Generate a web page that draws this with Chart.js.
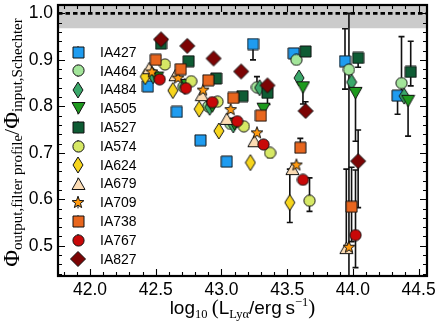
<!DOCTYPE html>
<html>
<head>
<meta charset="utf-8">
<script src="https://cdn.jsdelivr.net/npm/chart.js@4.4.1/dist/chart.umd.min.js"></script>
<style>
html, body { margin: 0; padding: 0; background: #fff; }
</style>
</head>
<body>
<canvas id="myChart" width="436" height="323"></canvas>
<script>
// filters, in legend order
var filters = ['IA427', 'IA464', 'IA484', 'IA505', 'IA527', 'IA574', 'IA624', 'IA679', 'IA709', 'IA738', 'IA767', 'IA827'];
var fills = ['#1f9cf0', '#a3e59a', '#3aa86a', '#1e9a1e', '#0e5c34', '#d6e865', '#f7d51c', '#fcdcb4', '#ff9a10', '#e8661e', '#c80808', '#7c0404'];
var shapes = ['square', 'circle', 'thinDiamond', 'triangleDown', 'square', 'circle', 'thinDiamond', 'triangle', 'star', 'square', 'circle', 'diamond'];

// log10 L(Lya) per point and the measured ratio
var ia427X = [42.44, 42.66, 42.84, 43.04, 43.24, 43.55, 43.94, 44.34];
var ia427Y = [0.843, 0.788, 0.727, 0.681, 0.934, 0.914, 0.897, 0.823];
var ia427Lo = [0, 0, 0, 0, 0.034, 0, 0.06, 0.04];
var ia427Hi = [0, 0, 0, 0, 0, 0, 0.07, 0];

var ia464X = [42.49, 42.71, 42.90, 43.07, 43.27, 43.57, 43.97, 44.37];
var ia464Y = [0.866, 0.842, 0.800, 0.762, 0.841, 0.900, 0.879, 0.850];
var ia464Lo = [0, 0, 0, 0, 0, 0, 0.5, 0.03];
var ia464Hi = [0, 0, 0, 0, 0.023, 0, 0.121, 0.10];

var ia484X = [42.48, 42.72, 42.91, 43.09, 43.29, 43.59, 43.99, 44.39];
var ia484Y = [0.866, 0.843, 0.798, 0.760, 0.840, 0.861, 0.852, 0.822];
var ia484Lo = [0, 0, 0, 0, 0, 0, 0, 0];
var ia484Hi = [0, 0, 0, 0, 0, 0, 0, 0];

var ia505X = [42.51, 42.74, 42.93, 43.10, 43.32, 43.62, 44.02, 44.42];
var ia505Y = [0.862, 0.846, 0.800, 0.762, 0.795, 0.841, 0.829, 0.812];
var ia505Lo = [0, 0, 0, 0, 0, 0.036, 0.104, 0.076];
var ia505Hi = [0, 0, 0, 0, 0, 0, 0, 0];

var ia527X = [42.54, 42.75, 42.96, 43.16, 43.35, 43.64, 44.04, 44.44];
var ia527Y = [0.935, 0.897, 0.860, 0.822, 0.829, 0.918, 0.904, 0.874];
var ia527Lo = [0, 0, 0, 0, 0.025, 0, 0.02, 0.03];
var ia527Hi = [0, 0, 0, 0, 0, 0, 0, 0.066];

var ia574X = [42.57, 42.77, 42.97, 43.17, 43.37, 43.67];
var ia574Y = [0.890, 0.854, 0.810, 0.757, 0.700, 0.597];
var ia574Lo = [0, 0, 0, 0, 0.01, 0.023];
var ia574Hi = [0, 0, 0, 0, 0, 0.049];

var ia624X = [42.42, 42.63, 42.83, 42.98, 43.22, 43.52];
var ia624Y = [0.864, 0.834, 0.794, 0.747, 0.679, 0.593];
var ia624Lo = [0, 0, 0, 0, 0, 0.043];
var ia624Hi = [0, 0, 0, 0, 0, 0.072];

var ia679X = [42.45, 42.65, 42.85, 43.04, 43.25, 43.54, 43.95];
var ia679Y = [0.882, 0.867, 0.824, 0.773, 0.725, 0.665, 0.495];
var ia679Lo = [0, 0, 0, 0, 0, 0, 0];
var ia679Hi = [0, 0, 0, 0, 0, 0, 0.17];

var ia709X = [42.47, 42.67, 42.86, 43.07, 43.27, 43.57, 43.97];
var ia709Y = [0.875, 0.862, 0.836, 0.794, 0.744, 0.675, 0.498];
var ia709Lo = [0, 0, 0, 0, 0, 0, 0];
var ia709Hi = [0, 0, 0, 0, 0, 0, 0];

var ia738X = [42.50, 42.69, 42.90, 43.09, 43.30, 43.60, 43.99];
var ia738Y = [0.900, 0.880, 0.856, 0.818, 0.780, 0.711, 0.584];
var ia738Lo = [0, 0, 0, 0, 0, 0, 0.075];
var ia738Hi = [0, 0, 0, 0, 0, 0.02, 0.085];

var ia767X = [42.53, 42.73, 42.93, 43.12, 43.32, 43.62, 44.02];
var ia767Y = [0.858, 0.839, 0.809, 0.768, 0.718, 0.642, 0.523];
var ia767Lo = [0, 0, 0, 0, 0, 0, 0.07];
var ia767Hi = [0, 0, 0, 0, 0, 0, 0.14];

var ia827X = [42.54, 42.74, 42.94, 43.15, 43.35, 43.64, 44.04];
var ia827Y = [0.944, 0.930, 0.903, 0.875, 0.845, 0.790, 0.682];
var ia827Lo = [0, 0, 0, 0, 0, 0, 0.10];
var ia827Hi = [0, 0, 0, 0, 0, 0.02, 0.067];

var allX = [ia427X, ia464X, ia484X, ia505X, ia527X, ia574X, ia624X, ia679X, ia709X, ia738X, ia767X, ia827X];
var allY = [ia427Y, ia464Y, ia484Y, ia505Y, ia527Y, ia574Y, ia624Y, ia679Y, ia709Y, ia738Y, ia767Y, ia827Y];
var allLo = [ia427Lo, ia464Lo, ia484Lo, ia505Lo, ia527Lo, ia574Lo, ia624Lo, ia679Lo, ia709Lo, ia738Lo, ia767Lo, ia827Lo];
var allHi = [ia427Hi, ia464Hi, ia484Hi, ia505Hi, ia527Hi, ia574Hi, ia624Hi, ia679Hi, ia709Hi, ia738Hi, ia767Hi, ia827Hi];

var xTicks = [42.0, 42.5, 43.0, 43.5, 44.0, 44.5];
var yTicks = [0.5, 0.6, 0.7, 0.8, 0.9, 1.0];
var bandLow = 0.968;   // grey band below 1.0

// marker images, so the legend and the points look the same
function marker(shape, color) {
  var c = document.createElement('canvas');
  var pts = null;
  if (shape == 'square') { c.width = 13; c.height = 13; }
  else if (shape == 'circle') { c.width = 13; c.height = 13; }
  else if (shape == 'diamond') { c.width = 18; c.height = 18; pts = [[9, 1.5], [16.5, 9], [9, 16.5], [1.5, 9]]; }
  else if (shape == 'thinDiamond') { c.width = 12; c.height = 18; pts = [[6, 1], [11, 9], [6, 17], [1, 9]]; }
  else if (shape == 'triangle') { c.width = 15; c.height = 14; pts = [[7.5, 1], [14, 12.5], [1, 12.5]]; }
  else if (shape == 'triangleDown') { c.width = 15; c.height = 14; pts = [[1, 1.5], [14, 1.5], [7.5, 13]]; }
  else if (shape == 'star') {
    c.width = 14; c.height = 14; pts = [];
    for (var i = 0; i < 10; i++) {
      var r = i % 2 ? 2.6 : 6.2;
      var a = -Math.PI / 2 + i * Math.PI / 5;
      pts.push([7 + r * Math.cos(a), 7.6 + r * Math.sin(a)]);
    }
  }
  var g = c.getContext('2d');
  g.fillStyle = color;
  g.strokeStyle = '#111';
  g.lineWidth = 1;
  g.beginPath();
  if (shape == 'square') g.rect(1, 1, 11, 11);
  else if (shape == 'circle') g.arc(6.5, 6.5, 5.6, 0, Math.PI * 2);
  else {
    g.moveTo(pts[0][0], pts[0][1]);
    for (var j = 1; j < pts.length; j++) g.lineTo(pts[j][0], pts[j][1]);
    g.closePath();
  }
  g.fill();
  g.stroke();
  return c;
}

var images = filters.map(function(f, i) { return marker(shapes[i], fills[i]); });

var datasets = filters.map(function(f, i) {
  return {
    label: f,
    data: allX[i].map(function(x, k) { return { x: x, y: allY[i][k] }; }),
    errLo: allLo[i],
    errHi: allHi[i],
    pointStyle: images[i],
    order: -i,
    showLine: false
  };
});

// grey band + dashed line at 1, error bars under the markers
var backPlugin = {
  id: 'back',
  beforeDatasetsDraw: function(chart) {
    var ctx = chart.ctx, a = chart.chartArea;
    var xs = chart.scales.x, ys = chart.scales.y;
    ctx.save();
    ctx.beginPath();
    ctx.rect(a.left, a.top, a.right - a.left, a.bottom - a.top);
    ctx.clip();
    var yb = ys.getPixelForValue(bandLow);
    ctx.fillStyle = '#cbcbcb';
    ctx.fillRect(a.left, a.top, a.right - a.left, yb - a.top);
    var y1 = ys.getPixelForValue(1.0);
    ctx.setLineDash([4.5, 3]);
    ctx.lineWidth = 2.6;
    ctx.strokeStyle = '#000';
    ctx.beginPath();
    ctx.moveTo(a.left, y1);
    ctx.lineTo(a.right, y1);
    ctx.stroke();
    ctx.setLineDash([]);

    ctx.lineWidth = 1.6;
    ctx.strokeStyle = '#111';
    chart.data.datasets.forEach(function(ds) {
      ds.data.forEach(function(p, k) {
        var lo = ds.errLo[k], hi = ds.errHi[k];
        if (!lo && !hi) return;
        var px = xs.getPixelForValue(p.x);
        var top = ys.getPixelForValue(p.y + hi);
        var bot = ys.getPixelForValue(p.y - lo);
        ctx.beginPath();
        ctx.moveTo(px, top);
        ctx.lineTo(px, bot);
        if (hi) { ctx.moveTo(px - 3, top); ctx.lineTo(px + 3, top); }
        if (lo) { ctx.moveTo(px - 3, bot); ctx.lineTo(px + 3, bot); }
        ctx.stroke();
      });
    });
    ctx.restore();
  }
};

function drawParts(ctx, parts, x, y) {
  parts.forEach(function(p) {
    ctx.font = p.f;
    ctx.fillText(p.t, x, y + p.dy);
    x += ctx.measureText(p.t).width;
  });
}
function partsWidth(ctx, parts) {
  var w = 0;
  parts.forEach(function(p) { ctx.font = p.f; w += ctx.measureText(p.t).width; });
  return w;
}

// frame, inward ticks, legend and axis titles
var frontPlugin = {
  id: 'front',
  afterDraw: function(chart) {
    var ctx = chart.ctx, a = chart.chartArea;
    var xs = chart.scales.x, ys = chart.scales.y;
    ctx.save();
    ctx.strokeStyle = '#000';
    ctx.lineWidth = 1.1;
    ctx.beginPath();
    for (var v = 41.8; v < 44.56; v += 0.1) {
      var px = Math.round(xs.getPixelForValue(v)) + 0.5;
      var major = xTicks.some(function(t) { return Math.abs(t - v) < 1e-6; });
      var len = major ? 7 : 4;
      ctx.moveTo(px, a.bottom); ctx.lineTo(px, a.bottom - len);
      ctx.moveTo(px, a.top); ctx.lineTo(px, a.top + len);
    }
    for (var w = 0.44; w < 1.018; w += 0.02) {
      var py = Math.round(ys.getPixelForValue(w)) + 0.5;
      var majorY = yTicks.some(function(t) { return Math.abs(t - w) < 1e-6; });
      var leny = majorY ? 7 : 4;
      ctx.moveTo(a.left, py); ctx.lineTo(a.left + leny, py);
      ctx.moveTo(a.right, py); ctx.lineTo(a.right - leny, py);
    }
    ctx.stroke();
    ctx.lineWidth = 2.2;
    ctx.strokeRect(a.left, a.top, a.right - a.left, a.bottom - a.top);

    // legend
    ctx.fillStyle = '#000';
    ctx.font = '14px "Liberation Sans"';
    ctx.textBaseline = 'middle';
    filters.forEach(function(f, i) {
      var ly = 52 + i * 18.8;
      var img = images[i];
      ctx.lineWidth = 1;
      ctx.beginPath();
      ctx.moveTo(78, ly - 6); ctx.lineTo(78, ly + 6);
      ctx.stroke();
      ctx.drawImage(img, Math.round(78 - img.width / 2), Math.round(ly - img.height / 2));
      ctx.fillText(f, 100, ly + 1);
    });

    // x title
    ctx.textBaseline = 'alphabetic';
    var xParts = [
      { t: 'log', f: '19px "Liberation Sans"', dy: 0 },
      { t: '10', f: '12.5px "Liberation Serif"', dy: 4 },
      { t: '\u2009(', f: '21px "Liberation Serif"', dy: 0 },
      { t: 'L', f: '19px "Liberation Sans"', dy: 0 },
      { t: 'Ly\u03b1', f: '12.5px "Liberation Serif"', dy: 4 },
      { t: '/erg\u2009s', f: '19px "Liberation Sans"', dy: 0 },
      { t: '\u22121', f: '12.5px "Liberation Serif"', dy: -8 },
      { t: ')', f: '21px "Liberation Serif"', dy: 0 }
    ];
    var xw = partsWidth(ctx, xParts);
    drawParts(ctx, xParts, (a.left + a.right) / 2 - xw / 2, 314);

    // y title, rotated
    var yParts = [
      { t: '\u03a6', f: '23px "Liberation Serif"', dy: 0 },
      { t: 'output,filter profile', f: '15px "Liberation Serif"', dy: 3 },
      { t: '/', f: '22px "Liberation Serif"', dy: 0 },
      { t: '\u03a6', f: '23px "Liberation Serif"', dy: 0 },
      { t: 'input,Schechter', f: '15px "Liberation Serif"', dy: 3 }
    ];
    var yw = partsWidth(ctx, yParts);
    ctx.translate(19, (a.top + a.bottom) / 2 + 2);
    ctx.rotate(-Math.PI / 2);
    drawParts(ctx, yParts, -yw / 2, 0);
    ctx.restore();
  }
};

function noPad(s) {
  s.paddingTop = 0; s.paddingBottom = 0; s.paddingLeft = 0; s.paddingRight = 0;
}

var ctx = document.getElementById('myChart').getContext('2d');
var chart = new Chart(ctx, {
  type: 'scatter',
  data: { datasets: datasets },
  options: {
    responsive: false,
    animation: false,
    layout: { padding: { left: 0, right: 9, top: 3, bottom: 0 } },
    plugins: { legend: { display: false }, tooltip: { enabled: false } },
    scales: {
      x: {
        type: 'linear', min: 41.756, max: 44.564,
        afterFit: function(s) { s.height = 47; noPad(s); },
        grid: { display: false, drawTicks: false },
        border: { display: false },
        ticks: {
          stepSize: 0.5, includeBounds: false, padding: 4, color: '#000',
          font: { family: 'Liberation Sans', size: 17.5 },
          callback: function(v) { return v.toFixed(1); }
        }
      },
      y: {
        type: 'linear', min: 0.435, max: 1.018,
        afterFit: function(s) { s.width = 58; noPad(s); },
        grid: { display: false, drawTicks: false },
        border: { display: false },
        ticks: {
          stepSize: 0.1, includeBounds: false, padding: 5, color: '#000',
          font: { family: 'Liberation Sans', size: 17.5 },
          callback: function(v) { return v.toFixed(1); }
        }
      }
    }
  },
  plugins: [backPlugin, frontPlugin]
});
</script>
</body>
</html>
